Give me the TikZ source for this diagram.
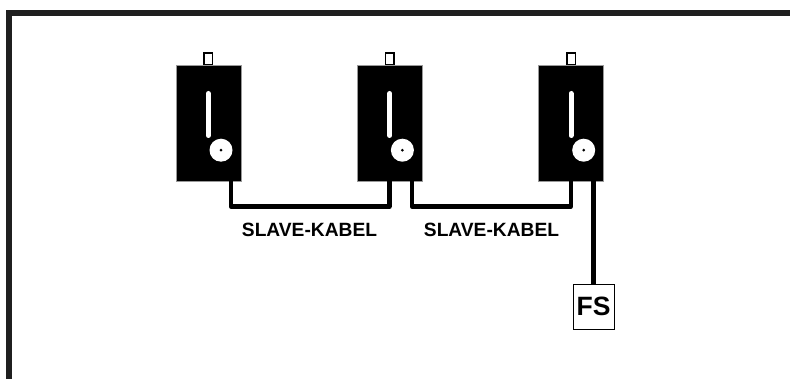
\documentclass[tikz,border=0pt]{standalone}
\usepackage{fontspec}
\setmainfont{Liberation Sans}
\tikzset{
 x=1pt,y=-1pt,
 unitbody/.style={fill=black,draw=black!40,line width=.25pt,minimum width=65pt,minimum height=116pt,inner sep=0pt,outer sep=0pt},
 unittab/.style={fill=white,draw=black,line width=1.5pt,minimum width=8.5pt,minimum height=12pt,inner sep=0pt,outer sep=0pt},
 unitknob/.style={circle,fill=white,draw=none,minimum size=23pt,inner sep=0pt},
 unitpin/.style={circle,fill=black,minimum size=3pt,inner sep=0pt},
 cable/.style={line width=4.6pt,line join=round,draw=black},
 caption/.style={font=\bfseries\fontsize{19.2}{21}\selectfont,inner sep=0pt},
}
\newcommand{\unitat}[2]{%
 \node[unittab] (t#1) at (#2,59) {};
 \node[unitbody] (b#1) at (#2,123) {};
 \draw[line width=5pt,white,line cap=round] (#2,93.5) -- (#2,135.5);
 \node[unitknob] (k#1) at (#2+12.7,150.2) {};
 \node[unitpin] (p#1) at (#2+12.7,150.2) {};
}
\begin{document}
\begin{tikzpicture}
\useasboundingbox (0,0) rectangle (790,379);
\fill[white] (0,0) rectangle (790,379);
\draw[line width=6pt,color=black!88] (9,379) -- (9,13) -- (790,13);
\unitat{1}{208.3}
\unitat{2}{389.7}
\unitat{3}{571}
\coordinate (c1a) at (231,181);
\coordinate (c1b) at (389.3,181);
\coordinate (c2a) at (412,181);
\coordinate (c2b) at (570.8,181);
\coordinate (r1) at (231,206.5);
\coordinate (r2) at (389.3,206.5);
\coordinate (r3) at (412,206.5);
\coordinate (r4) at (570.8,206.5);
\draw[cable] (c1a) -- (r1) -- (r2) -- (c1b);
\draw[cable] (c2a) -- (r3) -- (r4) -- (c2b);
\node[draw=black,line width=.8pt,minimum width=41pt,minimum height=45pt,inner sep=0pt,outer sep=0pt,font=\bfseries\fontsize{26.5}{28}\selectfont] (fs) at (593.5,306.5) {\raisebox{-2pt}{FS}};
\coordinate (c3) at (593.3,181);
\draw[cable,line width=5pt] (c3) -- (c3 |- fs.north);
\node[caption] (l1) at (309.5,229.5) {SLAVE-KABEL};
\node[caption] (l2) at (491.5,229.5) {SLAVE-KABEL};
\end{tikzpicture}
\end{document}
